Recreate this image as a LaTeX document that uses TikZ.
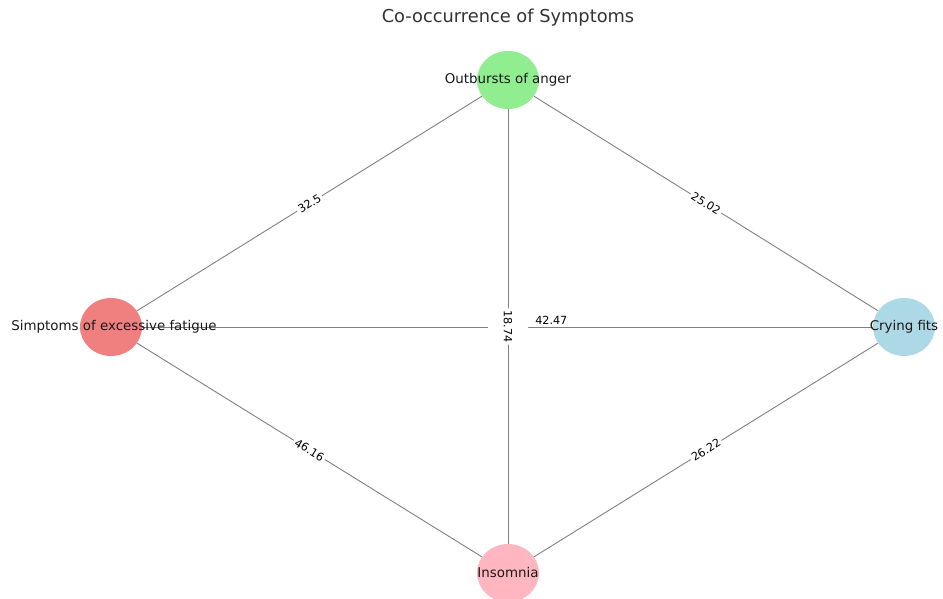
\documentclass[tikz,border=0pt]{standalone}
\usepackage{fontspec}
\setmainfont{DejaVu Sans}
\usetikzlibrary{shapes.geometric,backgrounds}

\definecolor{angercol}{HTML}{90EE90}
\definecolor{fatiguecol}{HTML}{F08080}
\definecolor{cryingcol}{HTML}{ADD8E6}
\definecolor{insomniacol}{HTML}{FFB6C1}
\definecolor{titlecol}{HTML}{333333}

\begin{document}
\begin{tikzpicture}[x=1pt, y=-1pt,
  symptom/.style={ellipse, minimum width=62pt, minimum height=58pt, inner sep=0pt},
  tag/.style={font=\fontsize{13.4}{16}\selectfont, text=black!90},
  link/.style={draw=gray, line width=0.9pt},
  weight/.style={fill=white, rounded corners=2pt, inner sep=2pt, font=\fontsize{11.2}{13}\selectfont}]
\useasboundingbox (0,0) rectangle (943,599);

% Title
\node[font=\fontsize{17.8}{21}\selectfont, text=titlecol] (title) at (508,18) {Co-occurrence of Symptoms};

% Symptom nodes
\node[symptom, fill=angercol] (anger) at (508,80) {};
\node[symptom, fill=fatiguecol] (fatigue) at (111,327) {};
\node[symptom, fill=cryingcol] (crying) at (904,327) {};
\node[symptom, fill=insomniacol] (insomnia) at (508,573) {};

% Node texts
\node[tag] (angertext) at (anger) {Outbursts of anger};
\node[tag] (fatiguetext) at (114,327) {Simptoms of excessive fatigue};
\node[tag] (cryingtext) at (crying) {Crying fits};
\node[tag] (insomniatext) at (insomnia) {Insomnia};

% Edges with weights
\begin{scope}[on background layer]
\draw[link] (fatigue) -- (anger) node[weight, midway, sloped] (wfa) {32.5};
\draw[link] (anger) -- (crying) node[weight, midway, sloped] (wac) {25.02};
\draw[link] (fatigue) -- (insomnia) node[weight, midway, sloped] (wfi) {46.16};
\draw[link] (insomnia) -- (crying) node[weight, midway, sloped] (wic) {26.22};
\draw[link] (fatigue) -- (crying) node[weight, fill=none, pos=0.56, yshift=7pt] (wfc) {42.47};
\draw[link] (anger) -- (insomnia) node[weight, midway, rotate=-90, minimum height=40pt] (wai) {18.74};
\end{scope}
\end{tikzpicture}
\end{document}
